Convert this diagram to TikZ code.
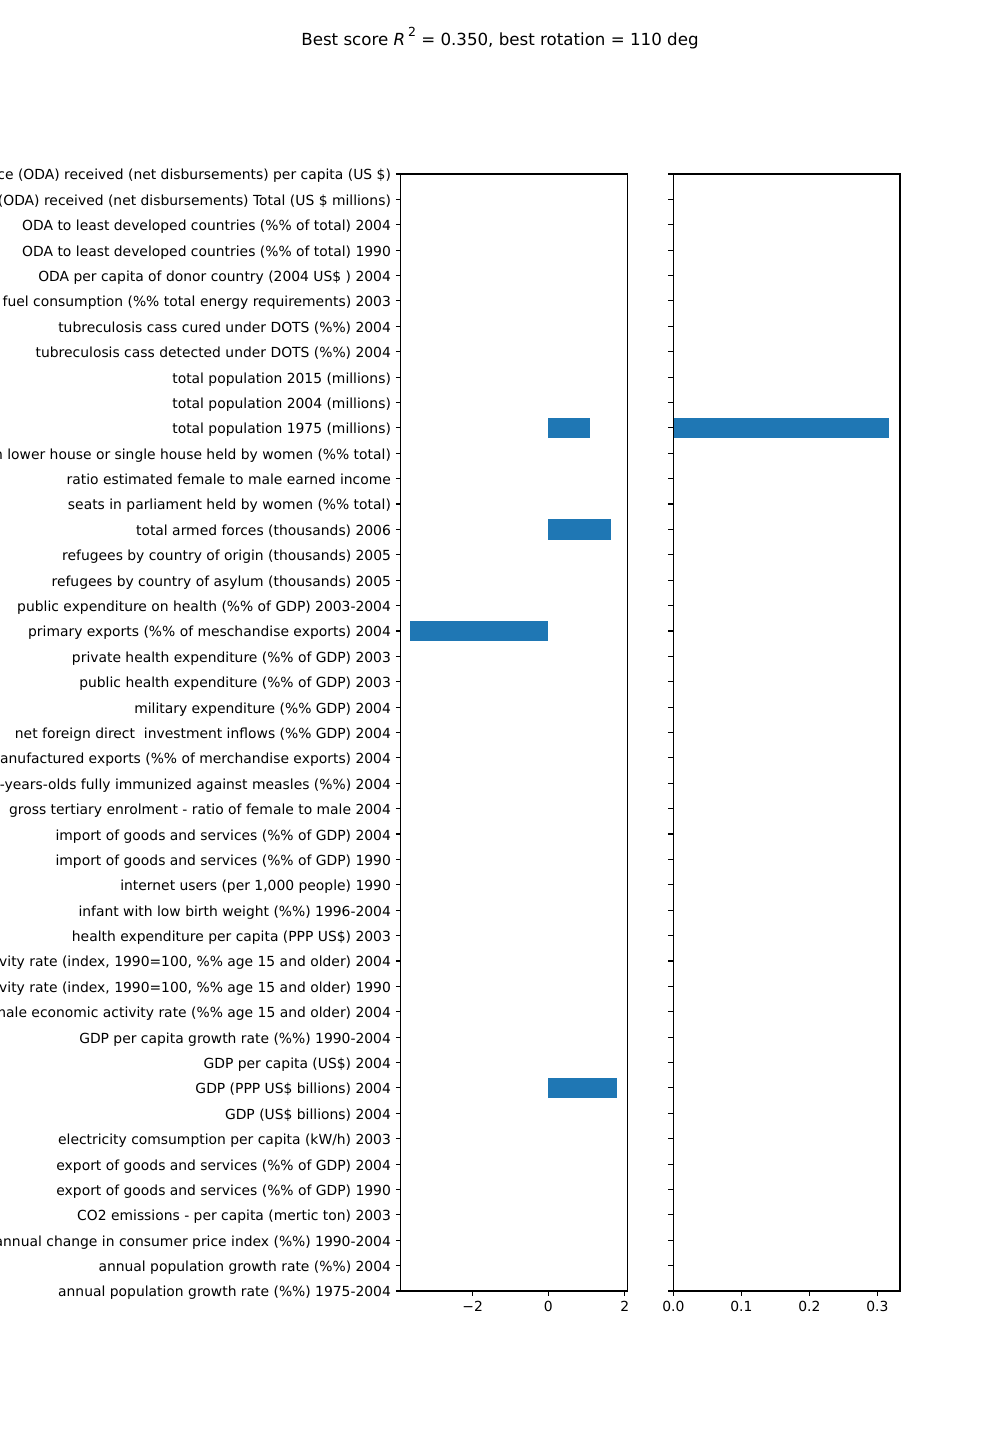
\documentclass[tikz,border=0pt]{standalone}
\usepackage{fontspec}
\setmainfont{DejaVu Sans}
\definecolor{barblue}{HTML}{1F77B4}
\begin{document}
\begin{tikzpicture}[x=0.72pt,y=-0.72pt,
  lbl/.style={anchor=east,inner sep=0pt,outer sep=0pt,font=\fontsize{10}{12}\selectfont,text height=8.6pt,text depth=0pt},
  xlbl/.style={anchor=north,inner sep=0pt,outer sep=0pt,font=\fontsize{10}{12}\selectfont,text height=7.3pt,text depth=0pt},
  frame/.style={draw=black,line width=0.8pt},
  tickline/.style={draw=black,line width=0.8pt},
  bar/.style={fill=barblue,draw=none}]
\useasboundingbox (0,0) rectangle (1000,1450);
\clip (0,0) rectangle (1000,1450);
% title
\node[anchor=base,inner sep=0pt,font=\fontsize{12}{14}\selectfont] (title) at (500,46)
  {Best score \textit{R}\,\raisebox{1.0ex}{\fontsize{9}{10}\selectfont 2} = 0.350, best rotation = 110 deg};
% bars
\fill[bar] (548.3,417.9) rectangle (590,438.2);
\fill[bar] (548.3,519.4) rectangle (611,539.7);
\fill[bar] (410,620.9) rectangle (548.3,641.2);
\fill[bar] (548.3,1078.0) rectangle (617,1098.3);
\fill[bar] (673.3,417.9) rectangle (889,438.2);
% frames
\draw[frame] (400.7,174) rectangle (627.3,1291);
\draw[frame] (673.3,174) rectangle (900,1291);
% y labels and ticks
\foreach \t [count=\i from 0] in {
 {official development assistance (ODA) received (net disbursements) per capita (US \$)},
 {official development assistance (ODA) received (net disbursements) Total (US \$ millions)},
 {ODA to least developed countries (\%\% of total) 2004},
 {ODA to least developed countries (\%\% of total) 1990},
 {ODA per capita of donor country (2004 US\$ ) 2004},
 {traditional fuel consumption (\%\% total energy requirements) 2003},
 {tubreculosis cass cured under DOTS (\%\%) 2004},
 {tubreculosis cass detected under DOTS (\%\%) 2004},
 {total population 2015 (millions)},
 {total population 2004 (millions)},
 {total population 1975 (millions)},
 {seats in lower house or single house held by women (\%\% total)},
 {ratio estimated female to male earned income},
 {seats in parliament held by women (\%\% total)},
 {total armed forces (thousands) 2006},
 {refugees by country of origin (thousands) 2005},
 {refugees by country of asylum (thousands) 2005},
 {public expenditure on health (\%\% of GDP) 2003-2004},
 {primary exports (\%\% of meschandise exports) 2004},
 {private health expenditure (\%\% of GDP) 2003},
 {public health expenditure (\%\% of GDP) 2003},
 {military expenditure (\%\% GDP) 2004},
 {net foreign direct\ \ investment inflows (\%\% GDP) 2004},
 {manufactured exports (\%\% of merchandise exports) 2004},
 {one-years-olds fully immunized against measles (\%\%) 2004},
 {gross tertiary enrolment - ratio of female to male 2004},
 {import of goods and services (\%\% of GDP) 2004},
 {import of goods and services (\%\% of GDP) 1990},
 {internet users (per 1,000 people) 1990},
 {infant with low birth weight (\%\%) 1996-2004},
 {health expenditure per capita (PPP US\$) 2003},
 {female economic activity rate (index, 1990=100, \%\% age 15 and older) 2004},
 {female economic activity rate (index, 1990=100, \%\% age 15 and older) 1990},
 {female economic activity rate (\%\% age 15 and older) 2004},
 {GDP per capita growth rate (\%\%) 1990-2004},
 {GDP per capita (US\$) 2004},
 {GDP (PPP US\$ billions) 2004},
 {GDP (US\$ billions) 2004},
 {electricity comsumption per capita (kW/h) 2003},
 {export of goods and services (\%\% of GDP) 2004},
 {export of goods and services (\%\% of GDP) 1990},
 {CO2 emissions - per capita (mertic ton) 2003},
 {average annual change in consumer price index (\%\%) 1990-2004},
 {annual population growth rate (\%\%) 2004},
 {annual population growth rate (\%\%) 1975-2004}} {
  \pgfmathsetmacro\yy{174+\i*25.386}
  \draw[tickline] (395.8,\yy) -- (400.7,\yy);
  \draw[tickline] (668.4,\yy) -- (673.3,\yy);
  \node[lbl] (ylab\i) at (390.9,\yy) {\t};
}
% x ticks left
\foreach \v/\s [count=\k] in {472.7/{\char"2212 2},548.3/0,624.7/2} {
  \draw[tickline] (\v,1291) -- (\v,1295.9);
  \node[xlbl] (xl\k) at (\v,1301.5) {\s};
}
% x ticks right
\foreach \v/\s [count=\k] in {673.3/0.0,741.3/0.1,809.3/0.2,877.3/0.3} {
  \draw[tickline] (\v,1291) -- (\v,1295.9);
  \node[xlbl] (xr\k) at (\v,1301.5) {\s};
}
\end{tikzpicture}
\end{document}
